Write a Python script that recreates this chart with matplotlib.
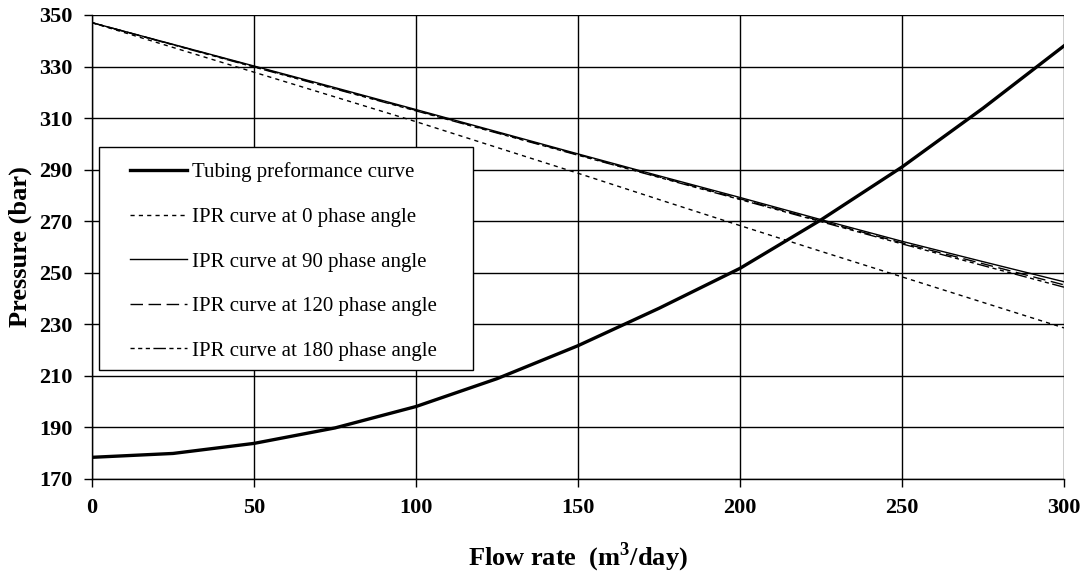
import matplotlib
matplotlib.use('Agg')
import matplotlib.pyplot as plt
from matplotlib.patches import Rectangle

plt.rcParams['font.family'] = 'Liberation Serif'
plt.rcParams['mathtext.fontset'] = 'custom'
plt.rcParams['mathtext.rm'] = 'Liberation Serif:bold'
plt.rcParams['mathtext.bf'] = 'Liberation Serif:bold'

flow = [0, 25, 50, 75, 100, 125, 150, 175, 200, 225, 250, 275, 300]
tubing = [178.4, 179.9, 183.8, 189.8, 198.1, 208.9, 221.7, 236.2, 251.7, 270.5, 291.0, 313.8, 338.0]
ipr_0 = [347, 337.4, 327.8, 318.2, 308.6, 298.6, 288.6, 278.4, 268.3, 258.3, 248.4, 238.5, 228.6]
ipr_90 = [347, 338.6, 330.2, 321.8, 313.3, 304.7, 296.1, 287.6, 279.2, 270.6, 262.2, 254.3, 246.5]
ipr_120 = [347, 338.5, 330.0, 321.5, 313.0, 304.4, 295.8, 287.2, 278.7, 270.1, 261.6, 253.5, 245.3]
ipr_180 = [347, 338.4, 329.8, 321.3, 312.8, 304.2, 295.6, 287.0, 278.4, 269.8, 261.2, 252.8, 244.4]

x_ticks = [0, 50, 100, 150, 200, 250, 300]
y_ticks = [170, 190, 210, 230, 250, 270, 290, 310, 330, 350]

fig = plt.figure(figsize=(10.86, 5.75), dpi=100)
ax = fig.add_axes([0.0847, 0.167, 0.895, 0.807])

ax.plot(flow, tubing, color='black', lw=2.4, label='Tubing preformance curve')
ax.plot(flow, ipr_0, color='black', lw=1, dashes=(3, 3), label='IPR curve at 0 phase angle')
ax.plot(flow, ipr_90, color='black', lw=1, label='IPR curve at 90 phase angle')
ax.plot(flow, ipr_120, color='black', lw=1, dashes=(9, 4), label='IPR curve at 120 phase angle')
ax.plot(flow, ipr_180, color='black', lw=1, dashes=(3, 2.5, 3, 2.5, 3, 2.5, 9, 2.5),
        label='IPR curve at 180 phase angle')

ax.set_xlim(0, 300)
ax.set_ylim(170, 350)
ax.set_xticks(x_ticks)
ax.set_yticks(y_ticks)
ax.grid(True, color='black', lw=1)
for s in ['top', 'right']:
    ax.spines[s].set_visible(False)
for s in ['left', 'bottom']:
    ax.spines[s].set_linewidth(1)
ax.tick_params(direction='out', length=6, width=1, labelsize=16, pad=8)
for lab in ax.get_xticklabels() + ax.get_yticklabels():
    lab.set_fontweight('bold')

ax.set_xlabel('Flow rate  (m$^{3}$/day)', fontsize=19, fontweight='bold', labelpad=16)
ax.set_ylabel('Pressure (bar)', fontsize=19, fontweight='bold', labelpad=5)

# legend box drawn separately so the inner padding can follow the original
box = Rectangle((0.0072, 0.2349), 0.3848, 0.4806, transform=ax.transAxes,
                facecolor='white', edgecolor='black', lw=1, zorder=4.5)
ax.add_patch(box)
leg = ax.legend(loc='upper left', bbox_to_anchor=(0.0391, 0.682), frameon=False,
                fontsize=15, handlelength=2.75, labelspacing=1.2, borderaxespad=0,
                borderpad=0, handletextpad=0.25)

fig.savefig('out.png', dpi=100)
